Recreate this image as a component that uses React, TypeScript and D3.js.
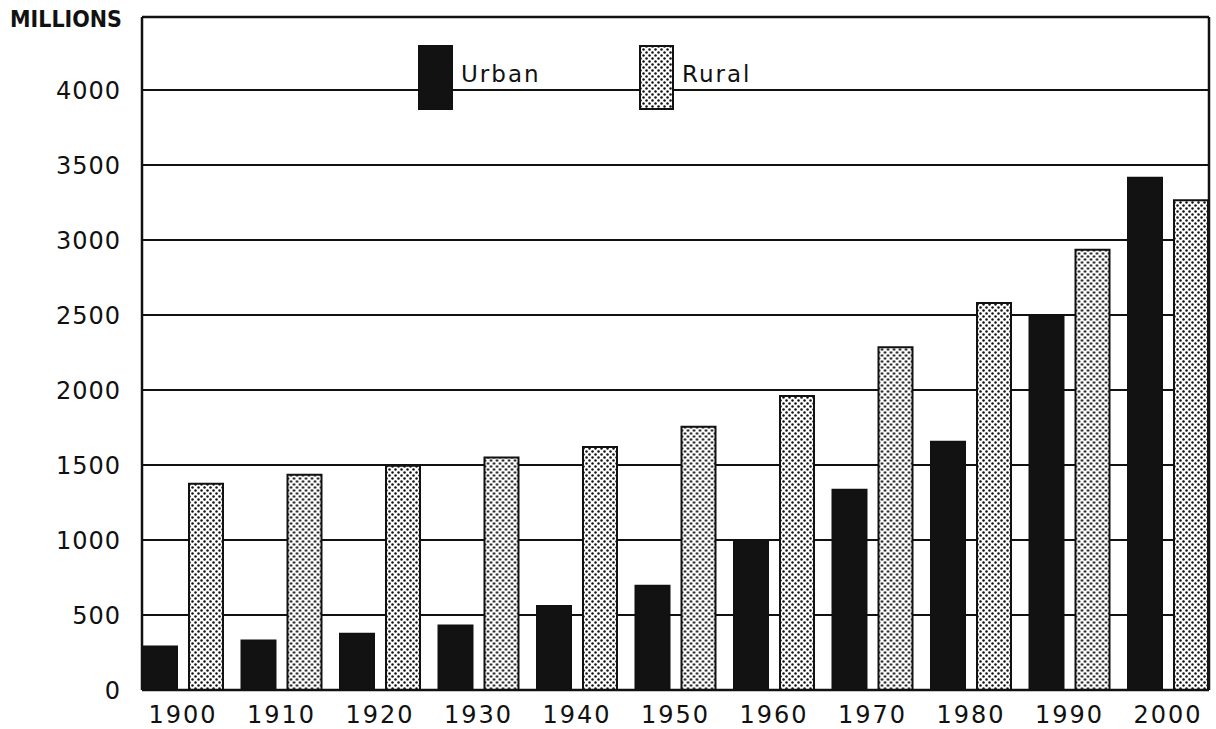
import React from "react";
import * as d3 from "d3";

const years = ["1900","1910","1920","1930","1940","1950","1960","1970","1980","1990","2000"];
const urban = [290, 330, 375, 430, 560, 695, 1000, 1335, 1655, 2490, 3415];
const rural = [1375, 1435, 1495, 1550, 1620, 1755, 1960, 2285, 2580, 2935, 3265];
const yTicks = [0, 500, 1000, 1500, 2000, 2500, 3000, 3500, 4000];
const seriesKeys = ["urban", "rural"];
const seriesLabels = ["Urban", "Rural"];

const W = 1216, H = 729;
const left = 142, right = 1209, top = 17, bottom = 690;
const FONT = "'DejaVu Sans', sans-serif";

export default function App() {
  const y = d3.scaleLinear().domain([0, 4000]).range([bottom, 90]);
  const x0 = d3.scaleBand<string>().domain(years).range([143, 143 + 98.5 * years.length]).padding(0);
  const x1 = d3.scaleBand<string>().domain(seriesKeys).range([0, 80]).paddingInner(0.261).paddingOuter(0);
  const data: Record<string, number[]> = { urban, rural };
  const fills: Record<string, string> = { urban: "#121212", rural: "url(#dots)" };

  return (
    <div style={{ position: "absolute", left: 0, top: 0 }}>
      <svg width={W} height={H} style={{ display: "block", background: "#fff" }}>
        <defs>
          <pattern id="dots" width="6" height="6" patternUnits="userSpaceOnUse">
            <rect width="6" height="6" fill="#fff" />
            <circle cx="1.5" cy="1.5" r="1.25" fill="#111" />
            <circle cx="4.5" cy="4.5" r="1.25" fill="#111" />
          </pattern>
        </defs>
        {/* gridlines */}
        {yTicks.filter(t => t > 0).map(t => (
          <line key={t} x1={left} x2={right} y1={y(t)} y2={y(t)} stroke="#111" strokeWidth={2.2} />
        ))}
        {/* frame */}
        <line x1={left} x2={right} y1={top} y2={top} stroke="#111" strokeWidth={2.5} />
        <line x1={right} x2={right} y1={top} y2={bottom} stroke="#111" strokeWidth={2.5} />
        <line x1={left} x2={left} y1={top} y2={bottom} stroke="#111" strokeWidth={2.5} />
        {/* bars */}
        {years.map((yr, i) => (
          <g key={yr} transform={`translate(${x0(yr)},0)`}>
            {seriesKeys.map(k => (
              <rect key={k} x={x1(k)} width={x1.bandwidth()} y={y(data[k][i])}
                height={bottom - y(data[k][i])} fill={fills[k]} stroke="#111" strokeWidth={2} />
            ))}
          </g>
        ))}
        <line x1={left} x2={right} y1={bottom} y2={bottom} stroke="#111" strokeWidth={2.5} />
        {/* y tick labels */}
        {yTicks.map(t => (
          <text key={t} x={121} y={y(t) + 9} textAnchor="end" fontFamily={FONT} fontSize={24}
            letterSpacing={1} fill="#111">{t}</text>
        ))}
        <text x={10} y={27} fontFamily={FONT} fontSize={23} textLength={112} lengthAdjust="spacingAndGlyphs"
          fill="#111" fontWeight={600}>MILLIONS</text>
        {/* x labels */}
        {years.map(yr => (
          <text key={yr} x={(x0(yr) as number) + 40} y={723} textAnchor="middle" fontFamily={FONT}
            fontSize={24} letterSpacing={2} fill="#111">{yr}</text>
        ))}
        {/* legend */}
        {seriesKeys.map((k, i) => {
          const lx = i === 0 ? 419 : 640;
          return (
            <g key={k}>
              <rect x={lx} y={46} width={33} height={63} fill={fills[k]} stroke="#111" strokeWidth={2} />
              <text x={lx + 42} y={82} fontFamily={FONT} fontSize={23} letterSpacing={2} fill="#111">{seriesLabels[i]}</text>
            </g>
          );
        })}
      </svg>
    </div>
  );
}
